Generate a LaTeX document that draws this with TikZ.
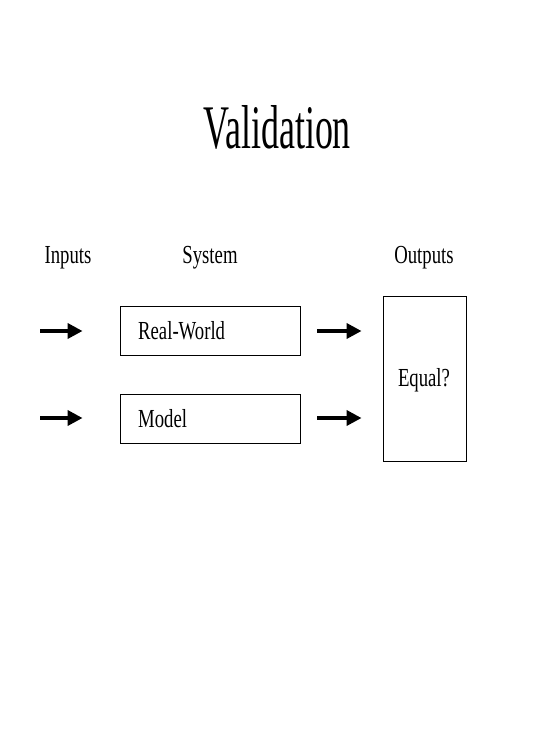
\documentclass[tikz,border=0pt]{standalone}
\usepackage{fontspec}
\setmainfont{Liberation Serif}
\newfontfamily\condtitle[FakeStretch=0.58]{Liberation Serif}
\newfontfamily\condlabel[FakeStretch=0.72]{Liberation Serif}
\usetikzlibrary{arrows.meta}
\begin{document}
\begin{tikzpicture}[x=1pt,y=-1pt,
  blk/.style={draw,line width=0.9pt,inner sep=0pt},
  lbl/.style={font=\condlabel\fontsize{26}{28}\selectfont,inner sep=0pt},
  flow/.style={line width=3.6pt,-{Triangle[length=15pt,width=15pt]}}]
\useasboundingbox (0,0) rectangle (555,741);
\node[font=\condtitle\fontsize{62}{66}\selectfont,inner sep=0pt] (title) at (277,127) {Validation};
\node[lbl] (inputs) at (68,258) {Inputs};
\node[lbl] (system) at (210,258) {System};
\node[lbl] (outputs) at (424,258) {Outputs};
\node[blk,minimum width=180pt,minimum height=49pt] (real) at (210,330.5) {};
\node[lbl,anchor=west] (realt) at (138,330.5) {Real-World};
\node[blk,minimum width=180pt,minimum height=49pt] (model) at (210,418.5) {};
\node[lbl,anchor=west] (modelt) at (138,418.5) {Model};
\node[blk,minimum width=83pt,minimum height=165pt] (equal) at (424.5,378.5) {};
\node[lbl] (equalt) at (424,380) {Equal?};
\coordinate (in1) at (40,331);
\coordinate (in2) at (40,418);
\coordinate (out1) at (317,331);
\coordinate (out2) at (317,418);
\draw[flow] (in1) -- ([xshift=-37pt]real.west |- in1);
\draw[flow] (in2) -- ([xshift=-37pt]model.west |- in2);
\draw[flow] (out1) -- ([xshift=-21pt]equal.west |- out1);
\draw[flow] (out2) -- ([xshift=-21pt]equal.west |- out2);
\end{tikzpicture}
\end{document}
